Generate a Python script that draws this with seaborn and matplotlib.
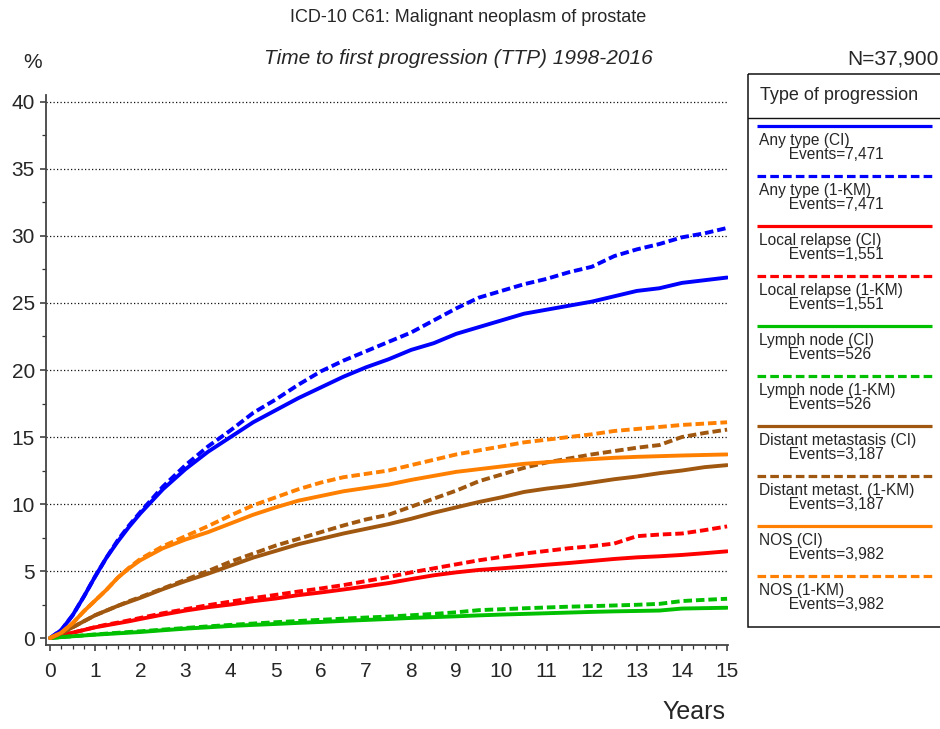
import numpy as np
import pandas as pd
import matplotlib
matplotlib.use("Agg")
import matplotlib.pyplot as plt
from matplotlib.ticker import MultipleLocator
from matplotlib.patches import Rectangle
from matplotlib.lines import Line2D
import seaborn as sns

# ---------------- data ----------------
YEARS = [0, 0.25, 0.5, 0.75, 1, 1.25, 1.5, 1.75, 2, 2.5, 3, 3.5, 4, 4.5, 5, 5.5, 6,
         6.5, 7, 7.5, 8, 8.5, 9, 9.5, 10, 10.5, 11, 11.5, 12, 12.5, 13, 13.5, 14, 14.5, 15]

any_ci = [0, 0.6, 1.7, 3.1, 4.6, 6.0, 7.2, 8.3, 9.3, 11.1, 12.6, 13.9, 15.0, 16.1, 17.0,
          17.9, 18.7, 19.5, 20.2, 20.8, 21.5, 22.0, 22.7, 23.2, 23.7, 24.2, 24.5, 24.8,
          25.1, 25.5, 25.9, 26.1, 26.5, 26.7, 26.9]
any_km = [0, 0.6, 1.7, 3.1, 4.6, 6.0, 7.3, 8.4, 9.4, 11.3, 12.9, 14.3, 15.5, 16.8, 17.8,
          18.9, 19.9, 20.7, 21.4, 22.1, 22.8, 23.7, 24.6, 25.4, 25.9, 26.4, 26.8, 27.3,
          27.7, 28.5, 29.0, 29.4, 29.9, 30.2, 30.6]
local_ci = [0, 0.2, 0.4, 0.6, 0.8, 0.95, 1.1, 1.25, 1.42, 1.75, 2.05, 2.3, 2.5, 2.75, 2.95,
            3.2, 3.4, 3.62, 3.85, 4.1, 4.4, 4.68, 4.9, 5.08, 5.2, 5.33, 5.47, 5.6, 5.75,
            5.9, 6.02, 6.1, 6.2, 6.33, 6.47]
local_km = [0, 0.2, 0.4, 0.6, 0.82, 1.0, 1.15, 1.32, 1.5, 1.85, 2.15, 2.45, 2.72, 2.98, 3.22,
            3.47, 3.7, 3.95, 4.25, 4.55, 4.9, 5.2, 5.5, 5.8, 6.05, 6.3, 6.5, 6.7, 6.85,
            7.05, 7.6, 7.72, 7.8, 8.05, 8.33]
lymph_ci = [0, 0.07, 0.13, 0.19, 0.25, 0.3, 0.35, 0.4, 0.45, 0.58, 0.7, 0.8, 0.9, 0.98, 1.05,
            1.13, 1.2, 1.28, 1.35, 1.42, 1.5, 1.56, 1.62, 1.69, 1.75, 1.8, 1.85, 1.9, 1.95,
            1.99, 2.02, 2.05, 2.2, 2.23, 2.26]
lymph_km = [0, 0.07, 0.13, 0.2, 0.27, 0.33, 0.39, 0.45, 0.5, 0.63, 0.75, 0.87, 0.98, 1.08,
            1.18, 1.27, 1.36, 1.45, 1.53, 1.6, 1.7, 1.8, 1.92, 2.08, 2.15, 2.22, 2.28, 2.34,
            2.38, 2.43, 2.48, 2.55, 2.76, 2.85, 2.93]
distant_ci = [0, 0.35, 0.8, 1.25, 1.7, 2.05, 2.4, 2.7, 3.0, 3.65, 4.25, 4.8, 5.4, 6.0, 6.5,
              7.0, 7.4, 7.8, 8.15, 8.5, 8.9, 9.35, 9.75, 10.15, 10.5, 10.9, 11.15, 11.35,
              11.6, 11.85, 12.05, 12.3, 12.5, 12.75, 12.9]
distant_km = [0, 0.35, 0.8, 1.25, 1.7, 2.05, 2.4, 2.75, 3.05, 3.7, 4.35, 5.0, 5.7, 6.3, 6.9,
              7.4, 7.9, 8.4, 8.85, 9.2, 9.8, 10.4, 11.0, 11.7, 12.2, 12.7, 13.1, 13.4, 13.7,
              13.95, 14.2, 14.4, 15.0, 15.3, 15.55]
nos_ci = [0, 0.4, 1.1, 2.0, 2.8, 3.6, 4.5, 5.2, 5.8, 6.7, 7.35, 7.9, 8.55, 9.2, 9.75, 10.25,
          10.6, 10.95, 11.2, 11.45, 11.8, 12.1, 12.4, 12.6, 12.8, 13.0, 13.12, 13.25, 13.35,
          13.45, 13.52, 13.57, 13.62, 13.66, 13.7]
nos_km = [0, 0.4, 1.1, 2.0, 2.8, 3.6, 4.5, 5.25, 5.9, 6.85, 7.6, 8.35, 9.15, 9.9, 10.5, 11.1,
          11.6, 12.0, 12.25, 12.5, 12.9, 13.3, 13.7, 14.0, 14.3, 14.6, 14.8, 15.0, 15.2,
          15.45, 15.6, 15.75, 15.9, 16.0, 16.1]

TYPES = ["Any type", "Local relapse", "Lymph node", "Distant metastasis", "NOS"]
COLORS = ["#0000FF", "#FF0000", "#00C000", "#A0570F", "#FF8000"]
LEGEND_LABELS = ["Any type (CI)", "Any type (1-KM)", "Local relapse (CI)", "Local relapse (1-KM)",
                 "Lymph node (CI)", "Lymph node (1-KM)", "Distant metastasis (CI)",
                 "Distant metast. (1-KM)", "NOS (CI)", "NOS (1-KM)"]
EVENTS = ["7,471", "7,471", "1,551", "1,551", "526", "526", "3,187", "3,187", "3,982", "3,982"]
X_TICKS = list(range(0, 16))
Y_TICKS = list(range(0, 41, 5))

series = [
    ("Any type", "CI", any_ci), ("Any type", "1-KM", any_km),
    ("Local relapse", "CI", local_ci), ("Local relapse", "1-KM", local_km),
    ("Lymph node", "CI", lymph_ci), ("Lymph node", "1-KM", lymph_km),
    ("Distant metastasis", "CI", distant_ci), ("Distant metastasis", "1-KM", distant_km),
    ("NOS", "CI", nos_ci), ("NOS", "1-KM", nos_km),
]
rows = []
for typ, meth, vals in series:
    for t, v in zip(YEARS, vals):
        rows.append({"year": t, "pct": v, "type": typ, "method": meth})
df = pd.DataFrame(rows)

# ---------------- figure ----------------
sns.set_style("white")
plt.rcParams["font.family"] = ["Liberation Sans", "DejaVu Sans"]

W, H = 940, 729
fig = plt.figure(figsize=(W / 100, H / 100), dpi=100)

def fx(px):
    return px / W

def fy(py):
    return 1 - py / H

ax_l, ax_r, ax_t, ax_b = 46, 728, 95, 645
ax = fig.add_axes([fx(ax_l), fy(ax_b), (ax_r - ax_l) / W, (ax_b - ax_t) / H])

palette = dict(zip(TYPES, COLORS))
KM_DASH = (2.2, 1.0)
sns.lineplot(data=df, x="year", y="pct", hue="type", style="method",
             hue_order=TYPES, style_order=["CI", "1-KM"], palette=palette,
             dashes={"CI": "", "1-KM": KM_DASH}, estimator=None, sort=True,
             legend=False, linewidth=2.8, ax=ax)

ax.set_xlim(-0.09, 15.02)
ax.set_ylim(-0.52, 40.52)
for yv in Y_TICKS[1:]:
    ax.axhline(yv, color="#111111", lw=0.9, linestyle=(0, (1, 1.8)), zorder=0)

ax.set_xticks(X_TICKS)
ax.set_yticks(Y_TICKS)
ax.xaxis.set_minor_locator(MultipleLocator(0.25))
ax.yaxis.set_minor_locator(MultipleLocator(2.5))
ax.set_xlabel("")
ax.set_ylabel("")
for s in ["top", "right"]:
    ax.spines[s].set_visible(False)
for s in ["left", "bottom"]:
    ax.spines[s].set_color("#444444")
    ax.spines[s].set_linewidth(1.3)
ax.tick_params(axis="both", which="major", length=4.5, width=1.1, color="#333333",
               labelsize=15, direction="out")
ax.tick_params(axis="both", which="minor", length=3, width=0.9, color="#333333",
               direction="out")
ax.tick_params(axis="x", which="major", pad=8)
ax.tick_params(axis="y", which="major", pad=3.5)
ax.tick_params(axis="x", which="both", bottom=True)
ax.tick_params(axis="y", which="both", left=True)

# titles and labels
fig.text(fx(468), fy(18), "ICD-10 C61: Malignant neoplasm of prostate", ha="center",
         va="center", fontsize=13)
fig.text(fx(458), fy(59), "Time to first progression (TTP) 1998-2016", ha="center",
         va="center", fontsize=15, style="italic")
fig.text(fx(939), fy(59), "N=37,900", ha="right", va="center", fontsize=15)
fig.text(fx(33), fy(62), "%", ha="center", va="center", fontsize=15)
fig.text(fx(725), fy(712), "Years", ha="right", va="center", fontsize=18)

# ---------------- legend box ----------------
lx0, lx1, ly0, ly1 = 748, 941, 74, 627
lax = fig.add_axes([fx(lx0), fy(ly1), (lx1 - lx0) / W, (ly1 - ly0) / H])
lax.set_xlim(lx0, lx1)
lax.set_ylim(ly1, ly0)
lax.axis("off")
lax.add_patch(Rectangle((lx0, ly0), 200, ly1 - ly0, fill=False, edgecolor="#111111",
                        lw=1.1, clip_on=False))
lax.plot([lx0, lx0 + 200], [118, 118], color="#111111", lw=1.0, clip_on=False)
lax.text(760, 96, "Type of progression", ha="left", va="center", fontsize=13)
for k, (lab, ev) in enumerate(zip(LEGEND_LABELS, EVENTS)):
    col = COLORS[k // 2]
    yl = 126 + 50 * k
    ls = "-" if k % 2 == 0 else (0, (2.7, 1.3))
    lax.add_line(Line2D([757, 932], [yl, yl], color=col, lw=2.3, linestyle=ls,
                        solid_capstyle="butt", dash_capstyle="butt"))
    lax.text(759, yl + 21.5, lab + "\n       Events=" + ev, ha="left", va="center",
             multialignment="left", fontsize=11.2, linespacing=0.9)

fig.savefig("out.png", dpi=100)
